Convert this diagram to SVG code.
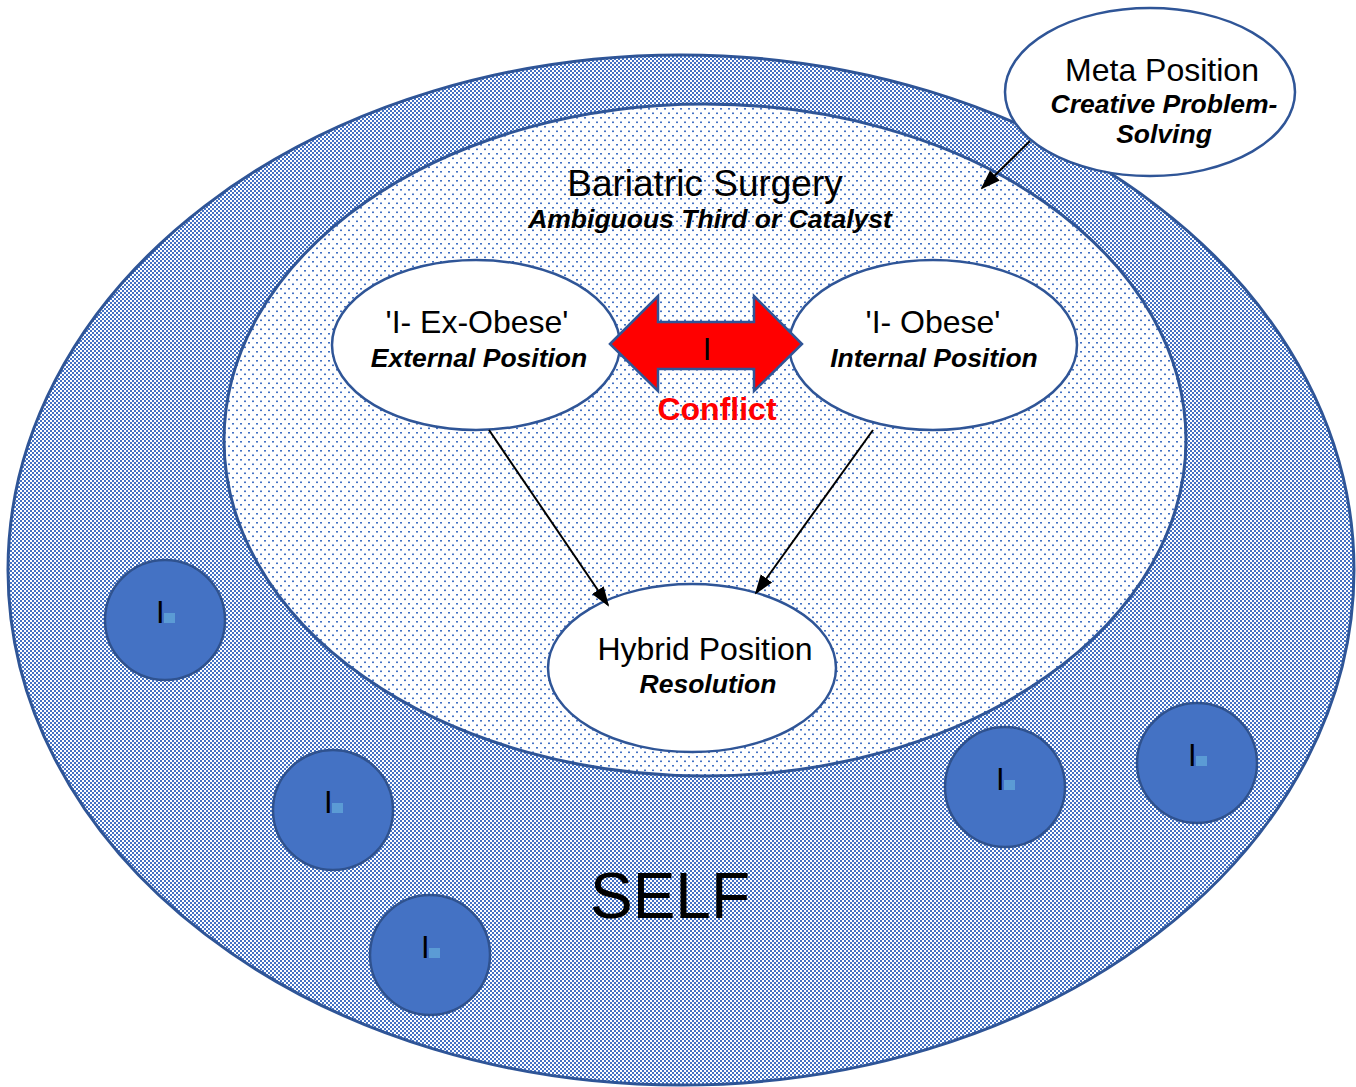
<svg xmlns="http://www.w3.org/2000/svg" width="1356" height="1087" viewBox="0 0 1356 1087">
<defs>
<pattern id="checker" width="4" height="4" patternUnits="userSpaceOnUse">
<rect width="4" height="4" fill="#ffffff"/>
<rect x="0" y="0" width="2" height="2" fill="#4472C4"/>
<rect x="2" y="2" width="2" height="2" fill="#4472C4"/>
</pattern>
<pattern id="dots" width="8" height="9" patternUnits="userSpaceOnUse">
<rect width="8" height="9" fill="#ffffff"/>
<rect x="0" y="0" width="2" height="1.6" fill="#4472C4"/>
<rect x="4" y="4.5" width="2" height="1.6" fill="#4472C4"/>
</pattern>
<marker id="arr" viewBox="0 0 10 10" refX="9" refY="5" markerWidth="10" markerHeight="10" orient="auto" markerUnits="strokeWidth">
<path d="M0,1.5 L10,5 L0,8.5 Z" fill="#000"/>
</marker>
<style>
.t{font-family:"Liberation Sans",Arial,sans-serif;fill:#000;text-anchor:middle}
.bi{font-weight:bold;font-style:italic;font-size:26.5px}
.n{font-size:32px}
.pos{fill:#fff;stroke:#2F5597;stroke-width:2.5}
.small{fill:#4472C4;stroke:#2F528F;stroke-width:2.5}
.sq{fill:#5B9BD5}
.it{font-family:"Liberation Sans",Arial,sans-serif;font-size:31px;fill:#000}
.conn{stroke:#000;stroke-width:2;fill:none;marker-end:url(#arr)}
</style>
</defs>
<g id="self">
<ellipse cx="681" cy="570" rx="673" ry="515" fill="url(#checker)" stroke="#2F5597" stroke-width="3"/>
<text class="t" x="670" y="918" font-size="64">SELF</text>
</g>
<g id="bariatric">
<ellipse cx="705" cy="440" rx="481" ry="336" fill="url(#dots)" stroke="#2F5597" stroke-width="3"/>
<text class="t" x="705" y="196" font-size="37">Bariatric Surgery</text>
<text class="t bi" x="710" y="228">Ambiguous Third or Catalyst</text>
</g>
<g id="meta">
<ellipse cx="1150" cy="92" rx="145" ry="84" class="pos"/>
<text class="t n" x="1162" y="81">Meta Position</text>
<text class="t bi" x="1164" y="113">Creative Problem-</text>
<text class="t bi" x="1164" y="143">Solving</text>
</g>
<g id="ex-obese">
<ellipse cx="476" cy="345" rx="144" ry="85" class="pos"/>
<text class="t n" x="477" y="333">'I- Ex-Obese'</text>
<text class="t bi" x="479" y="367">External Position</text>
</g>
<g id="obese">
<ellipse cx="933" cy="345" rx="144" ry="85" class="pos"/>
<text class="t n" x="933" y="333">'I- Obese'</text>
<text class="t bi" x="934" y="367">Internal Position</text>
</g>
<g id="hybrid">
<ellipse cx="692" cy="668" rx="144" ry="84" class="pos"/>
<text class="t n" x="705" y="660">Hybrid Position</text>
<text class="t bi" x="708" y="693">Resolution</text>
</g>
<g id="conflict">
<path d="M610,344 L658,296 L658,322 L754,322 L754,296 L802,344 L754,391 L754,369 L658,369 L658,391 Z" fill="#FF0000" stroke="#2F5597" stroke-width="2.5" stroke-linejoin="miter"/>
<text class="t" x="707" y="360" font-size="31">I</text>
<text class="t" x="717" y="420" font-size="32" font-weight="bold" style="fill:#FF0000">Conflict</text>
</g>
<g id="i1"><circle cx="165" cy="620" r="60" class="small"/><text class="it" x="156" y="623">I</text><rect class="sq" x="164" y="613" width="11" height="10"/></g>
<g id="i2"><circle cx="333" cy="810" r="60" class="small"/><text class="it" x="324" y="813">I</text><rect class="sq" x="332" y="803" width="11" height="10"/></g>
<g id="i3"><circle cx="430" cy="955" r="60" class="small"/><text class="it" x="421" y="958">I</text><rect class="sq" x="429" y="948" width="11" height="10"/></g>
<g id="i4"><circle cx="1005" cy="787" r="60" class="small"/><text class="it" x="996" y="790">I</text><rect class="sq" x="1004" y="780" width="11" height="10"/></g>
<g id="i5"><circle cx="1197" cy="763" r="60" class="small"/><text class="it" x="1188" y="766">I</text><rect class="sq" x="1196" y="756" width="11" height="10"/></g>
<g id="connectors">
<line class="conn" x1="489" y1="430" x2="608" y2="605"/>
<line class="conn" x1="873" y1="430" x2="756" y2="593"/>
<line class="conn" x1="1030" y1="141" x2="982" y2="188"/>
</g>
</svg>
